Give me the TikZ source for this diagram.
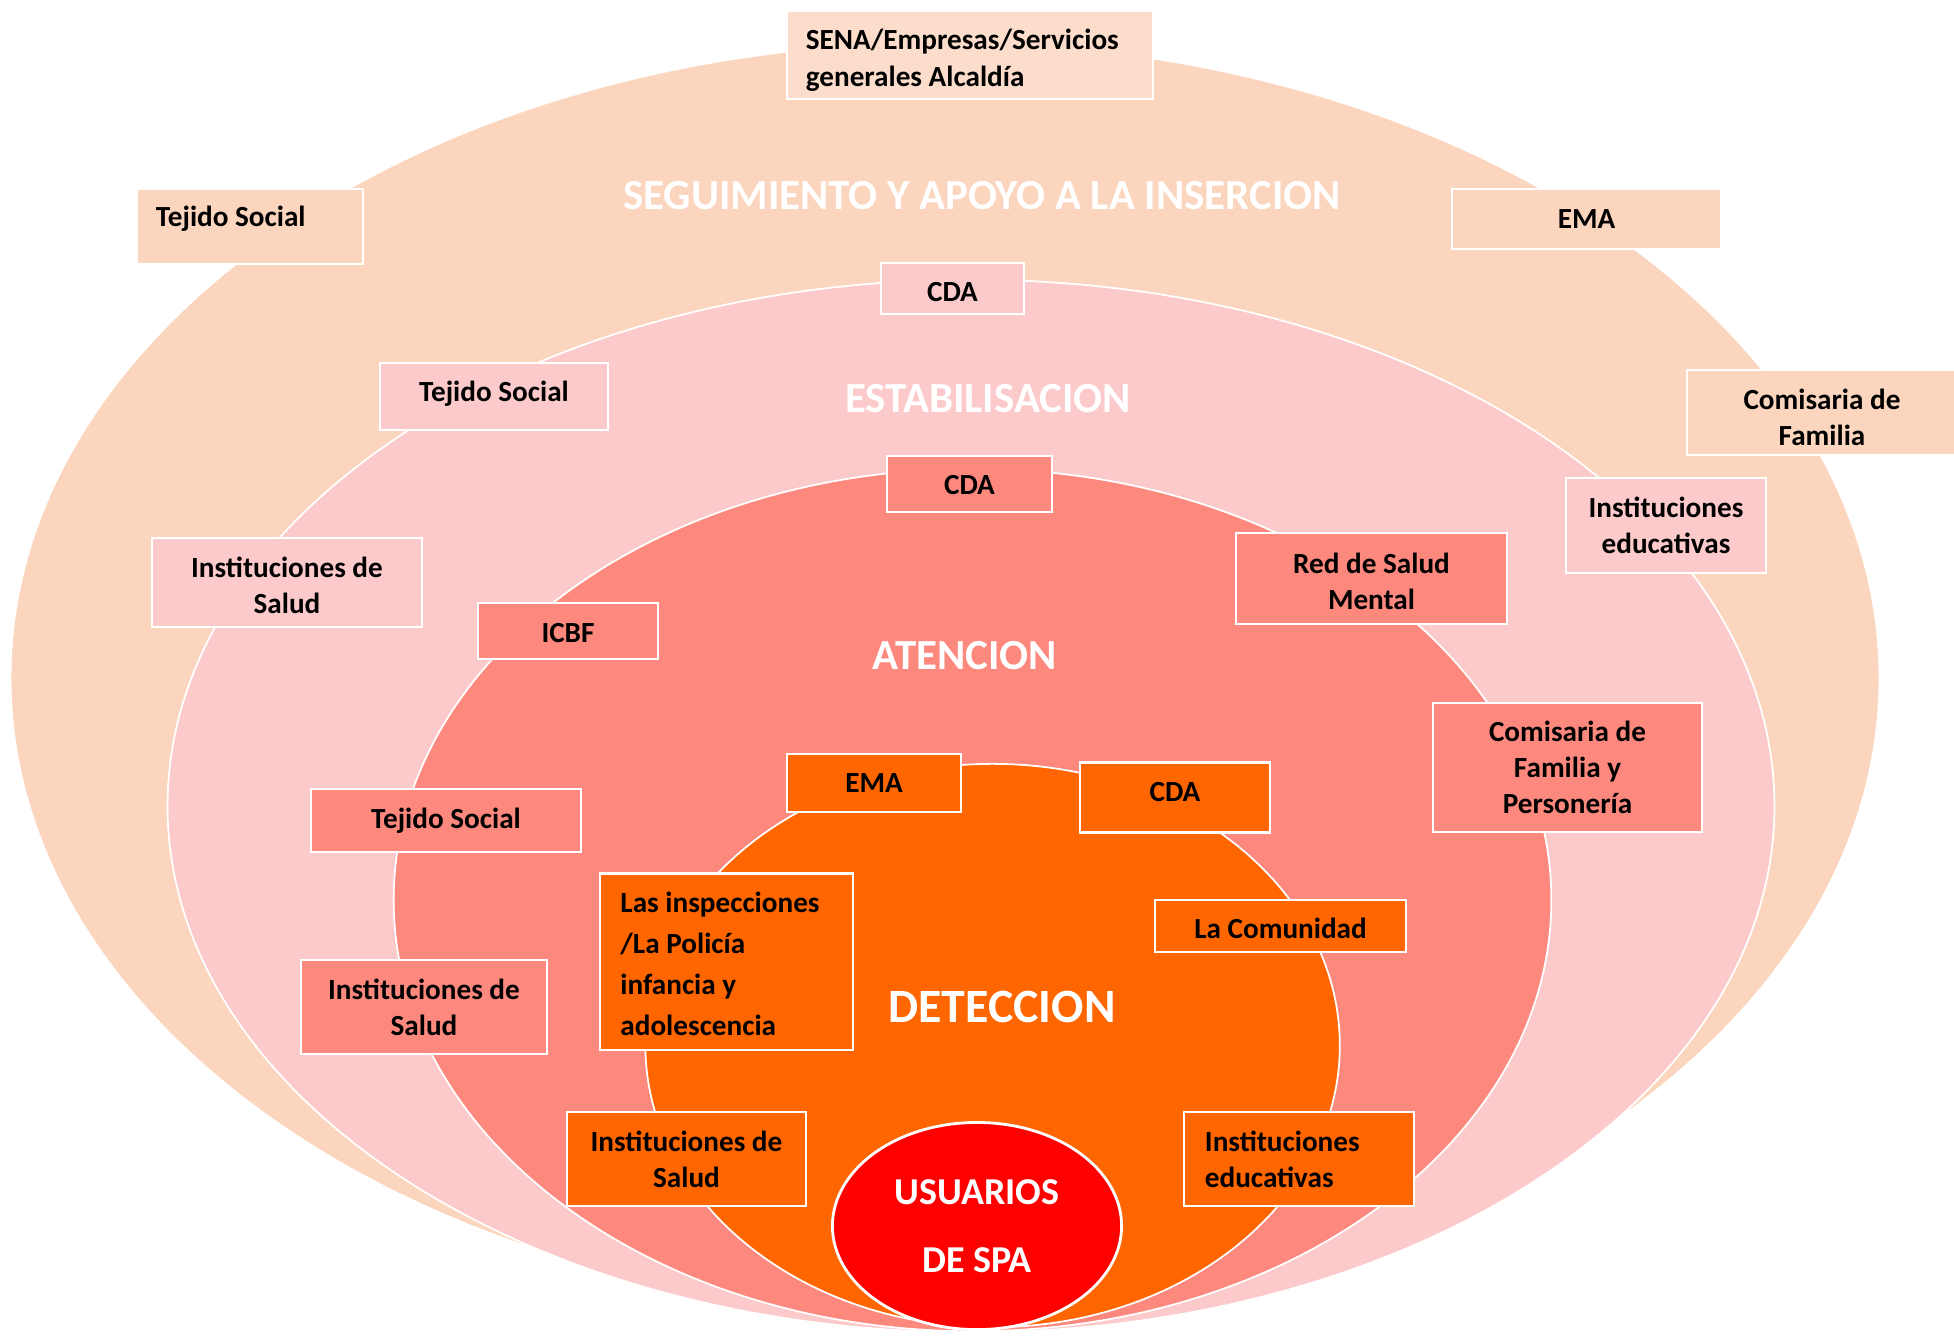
\documentclass[tikz,border=0pt]{standalone}
\usepackage{fontspec}
\setmainfont{Carlito}
\usetikzlibrary{shapes.geometric}
\definecolor{peach}{HTML}{FBD5BD}
\definecolor{peachlt}{HTML}{FCDCCB}
\definecolor{pinkr}{HTML}{FCCACA}
\definecolor{salmon}{HTML}{FD887E}
\definecolor{orng}{HTML}{FF6600}
\definecolor{redc}{HTML}{FF0000}
\newcommand\nsk{\spaceskip=0pt\xspaceskip=0pt\relax}
\newcommand\lift[1]{\rule{0pt}{#1}}
\begin{document}
\begin{tikzpicture}[x=0.01cm,y=-0.01cm,
  font=\bfseries\fontsize{8.3}{10.2}\selectfont,
  ringline/.style={draw=white, line width=0.5pt},
  box/.style={draw=white, line width=0.6pt, rectangle, inner sep=0pt, align=center, text=black},
  ttl/.style={text=white, inner sep=0pt, font=\bfseries\fontsize{12.2}{14}\selectfont}]
\useasboundingbox (0,0) rectangle (1954,1335);
% rings
\path[fill=peach] (945,678) ellipse [x radius=9.33cm, y radius=6.34cm];
\path[fill=pinkr, ringline] (971,806) ellipse [x radius=8.03cm, y radius=5.26cm];
\path[fill=salmon, ringline] (972.5,900) ellipse [x radius=5.785cm, y radius=4.31cm];
\path[fill=orng, ringline] (992.6,1045.5) ellipse [x radius=3.47cm, y radius=2.815cm];
% outer ring boxes
\node[box, fill=peachlt, minimum width=3.66cm, minimum height=0.88cm, text width=3.28cm, align=left,
  font=\bfseries\fontsize{8.3}{10.6}\selectfont] (sena) at (970,55) {\nsk\lift{8.6pt}SENA/Empresas/Servicios\\generales Alcaldía};
\node[box, fill=peach, minimum width=2.26cm, minimum height=0.75cm, text width=1.88cm, align=left,
  text height=7pt, text depth=7pt] (tejA) at (250,226.5) {\nsk Tejido Social};
\node[box, fill=peach, minimum width=2.69cm, minimum height=0.60cm] (emaA) at (1586.5,219) {EMA};
\node[box, fill=peach, minimum width=2.70cm, minimum height=0.85cm] (comA) at (1822,412.5) {\lift{8.4pt}Comisaria de\\Familia};
% pink ring boxes
\node[box, fill=pinkr, minimum width=1.43cm, minimum height=0.51cm, text height=7.6pt] (cdaB) at (952.5,288.5) {CDA};
\node[box, fill=pinkr, minimum width=2.28cm, minimum height=0.67cm, text depth=3.1pt] (tejB) at (494,396.5) {Tejido Social};
\node[box, fill=pinkr, minimum width=2.70cm, minimum height=0.89cm] (isB) at (287,582.5) {\lift{7.5pt}Instituciones de\\Salud};
\node[box, fill=pinkr, minimum width=2.00cm, minimum height=0.95cm] (ieB) at (1666,525.5) {Instituciones\\educativas};
% salmon ring boxes
\node[box, fill=salmon, minimum width=1.65cm, minimum height=0.56cm, text height=6pt] (cdaC) at (969.5,484) {CDA};
\node[box, fill=salmon, minimum width=2.71cm, minimum height=0.91cm] (redC) at (1371.5,578.5) {\lift{7.5pt}Red de Salud\\Mental};
\node[box, fill=salmon, minimum width=1.80cm, minimum height=0.56cm, text height=6.8pt] (icbfC) at (568,631) {ICBF};
\node[box, fill=salmon, minimum width=2.69cm, minimum height=1.29cm] (comC) at (1567.5,767.5) {Comisaria de\\Familia y\\Personería};
\node[box, fill=salmon, minimum width=2.69cm, minimum height=0.63cm] (tejC) at (446,820.5) {Tejido Social};
\node[box, fill=salmon, minimum width=2.45cm, minimum height=0.94cm] (isC) at (424,1007) {Instituciones de\\Salud};
% orange ring boxes
\node[box, fill=orng, minimum width=1.74cm, minimum height=0.58cm] (emaD) at (874,783) {EMA};
\node[box, fill=orng, minimum width=1.90cm, minimum height=0.70cm, text height=6pt, text depth=3.5pt] (cdaD) at (1175,797.5) {CDA};
\node[box, fill=orng, minimum width=2.51cm, minimum height=0.52cm, text height=7.2pt] (comuD) at (1280.5,926) {La Comunidad};
\node[box, fill=orng, minimum width=2.52cm, minimum height=1.76cm, text width=2.12cm, align=left,
  font=\bfseries\fontsize{8.3}{11.7}\selectfont] (inspD) at (726.5,961.5) {\nsk\lift{7.3pt}Las inspecciones\\/La Policía\\infancia y\\adolescencia};
\node[box, fill=orng, minimum width=2.39cm, minimum height=0.94cm] (isD) at (686.5,1159) {Instituciones de\\Salud};
\node[box, fill=orng, minimum width=2.30cm, minimum height=0.94cm, text width=1.88cm, align=left] (ieD) at (1299,1159) {\nsk Instituciones\\educativas};
% center
\node[ellipse, fill=redc, draw=white, line width=0.8pt, inner sep=0pt, minimum width=2.89cm, minimum height=2.07cm,
  text=white, align=center, font=\bfseries\fontsize{10.8}{19.5}\selectfont] (usu) at (977,1226) {USUARIOS\\DE SPA};
% titles
\node[ttl] (tSeg) at (982,195.6) {SEGUIMIENTO Y APOYO A LA INSERCION};
\node[ttl] (tEst) at (988,399) {ESTABILISACION};
\node[ttl] (tAte) at (964.6,655.5) {ATENCION};
\node[ttl, font=\bfseries\fontsize{13.6}{16}\selectfont] (tDet) at (1002,1007) {DETECCION};
\end{tikzpicture}
\end{document}
